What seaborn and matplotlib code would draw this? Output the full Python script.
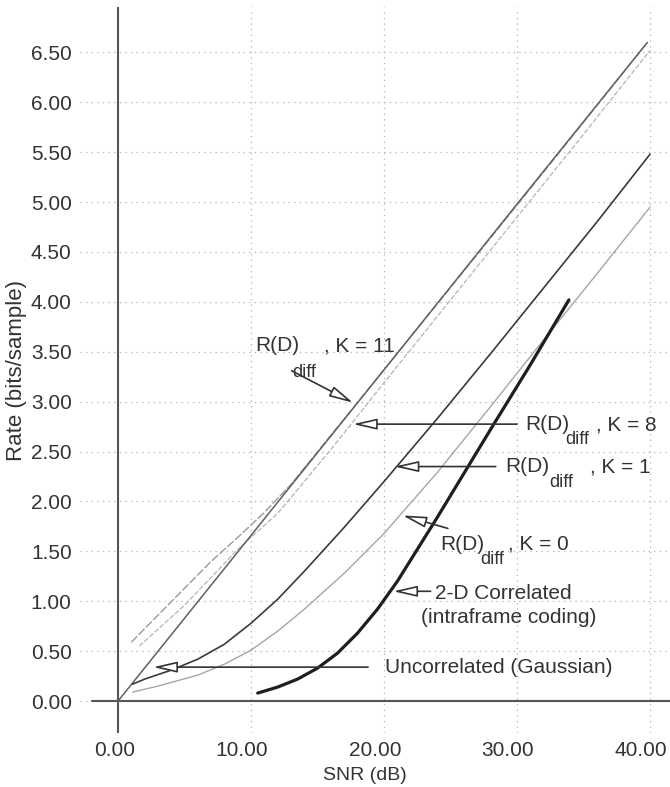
import matplotlib
matplotlib.use("Agg")
import matplotlib.pyplot as plt
from matplotlib.transforms import ScaledTranslation
import pandas as pd
import seaborn as sns

# Rate-distortion curves: SNR (dB) vs rate (bits/sample)
uncorr_snr = [0.0, 10.0, 20.0, 30.0, 39.8]
uncorr_rate = [0.00, 1.66, 3.32, 4.98, 6.60]

k11_snr = [1.0, 3, 5, 7, 9, 11, 13, 15, 18, 22, 26, 30, 35, 39.8]
k11_rate = [0.59, 0.86, 1.13, 1.40, 1.64, 1.89, 2.17, 2.50, 2.99, 3.65, 4.31, 4.97, 5.80, 6.60]

k8_snr = [1.6, 3, 5, 7, 9, 12, 16, 20, 25, 30, 35, 40]
k8_rate = [0.55, 0.72, 0.96, 1.24, 1.52, 1.88, 2.52, 3.19, 4.02, 4.85, 5.68, 6.52]

k1_snr = [1.1, 2, 4, 6, 8, 10, 12, 14, 17, 20, 24, 28, 32, 36, 40]
k1_rate = [0.17, 0.22, 0.31, 0.42, 0.57, 0.78, 1.02, 1.30, 1.74, 2.20, 2.83, 3.48, 4.14, 4.80, 5.48]

k0_snr = [1.1, 3, 6, 8, 10, 12, 14, 17, 20, 24, 28, 32, 36, 40]
k0_rate = [0.09, 0.15, 0.26, 0.37, 0.51, 0.70, 0.92, 1.28, 1.68, 2.29, 2.95, 3.62, 4.28, 4.95]

corr2d_snr = [10.5, 12, 13.5, 15, 16.5, 18, 19.5, 21, 22.5, 24, 26, 28, 31, 33.9]
corr2d_rate = [0.08, 0.14, 0.22, 0.33, 0.48, 0.68, 0.92, 1.20, 1.52, 1.84, 2.28, 2.72, 3.37, 4.02]

x_ticks = [0, 10, 20, 30, 40]
y_ticks = [0.0, 0.5, 1.0, 1.5, 2.0, 2.5, 3.0, 3.5, 4.0, 4.5, 5.0, 5.5, 6.0, 6.5]

sns.set_theme(style="white")
plt.rcParams["font.family"] = ["Liberation Sans", "DejaVu Sans"]

fig = plt.figure(figsize=(6.7, 7.87), dpi=100)
ax = fig.add_axes([80 / 670, 1 - 733 / 787, 1 - 80 / 670, 726 / 787])

ax.set_xlim(-2.86, 41.5)
ax.set_ylim(-0.32, 6.955)

# dotted grid
for xv in x_ticks[1:]:
    ax.axvline(xv, color="#b0b0b0", lw=0.9, ls=(0, (1, 3.5)), zorder=0)
for yv in y_ticks:
    ax.axhline(yv, color="#b0b0b0", lw=0.9, ls=(0, (1, 3.5)), zorder=0)

# axes crossing at the origin
ax.axvline(0, color="#555555", lw=1.5, zorder=1)
ax.plot([-1.95, 41.5], [0, 0], color="#555555", lw=1.5, zorder=1)

series = [
    (k8_snr, k8_rate, "#b4b4b4", 0.9, (0, (4, 1.5))),
    (k11_snr, k11_rate, "#9a9a9a", 1.0, (0, (6, 1.5))),
    (k0_snr, k0_rate, "#a6a6a6", 1.0, "-"),
    (uncorr_snr, uncorr_rate, "#606060", 1.1, "-"),
    (k1_snr, k1_rate, "#3a3a3a", 1.2, "-"),
    (corr2d_snr, corr2d_rate, "#1e1e1e", 2.3, "-"),
]
for sx, sy, col, lw, ls in series:
    df = pd.DataFrame({"snr": sx, "rate": sy})
    sns.lineplot(data=df, x="snr", y="rate", ax=ax, color=col, lw=lw,
                 linestyle=ls, estimator=None, sort=False, zorder=3)

for s in ax.spines.values():
    s.set_visible(False)

ax.set_xticks(x_ticks)
ax.set_yticks(y_ticks)
ax.set_xticklabels([f"{v:.2f}" for v in x_ticks])
ax.set_yticklabels([f"{v:.2f}" for v in y_ticks])
ax.tick_params(axis="both", length=0, labelsize=15, colors="#333333")
ax.tick_params(axis="y", pad=6)
ax.tick_params(axis="x", pad=6)

# x tick labels sit right-aligned a little past their grid line
shift = ScaledTranslation(17 / 100, 0, fig.dpi_scale_trans)
for tick in ax.xaxis.get_major_ticks():
    tick.label1.set_horizontalalignment("right")
    tick.label1.set_transform(tick.label1.get_transform() + shift)

ax.set_xlabel("SNR (dB)", fontsize=14, color="#333333")
ax.set_ylabel("Rate (bits/sample)", fontsize=16, color="#333333")
ax.xaxis.set_label_coords(0.483, -0.047)
ax.yaxis.set_label_coords(-0.09, 0.499)

arrow_kw = dict(arrowstyle="-|>,head_length=1.45,head_width=0.33",
                mutation_scale=10, fc="white", ec="#333333", lw=1.2,
                shrinkA=0, shrinkB=0)


def arrow(tip, tail):
    ax.annotate("", xy=tip, xytext=tail, arrowprops=arrow_kw, zorder=5)


def rd_label(x_r, y_r, x_sub, y_sub, x_k, k):
    kw = dict(color="#333333", va="center", ha="left", zorder=6)
    ax.text(x_r, y_r, "R(D)", fontsize=15, **kw)
    ax.text(x_sub, y_sub, "diff", fontsize=13, **kw)
    ax.text(x_k, y_r, f", K = {k}", fontsize=15, **kw)


# K = 11
rd_label(10.3, 3.56, 13.1, 3.29, 15.5, 11)
arrow((17.67, 2.99), (13.05, 3.31))
# K = 8
rd_label(30.6, 2.77, 33.6, 2.62, 35.9, 8)
arrow((17.67, 2.775), (30.0, 2.775))
# K = 1
rd_label(29.1, 2.35, 32.4, 2.19, 35.5, 1)
arrow((20.8, 2.35), (28.4, 2.35))
# K = 0
rd_label(24.2, 1.57, 27.2, 1.42, 29.3, 0)
arrow((21.4, 1.86), (24.8, 1.73))

txt = dict(color="#333333", va="center", ha="left", fontsize=15, zorder=6)
ax.text(23.8, 1.08, "2-D Correlated", **txt)
ax.text(22.8, 0.84, "(intraframe coding)", **txt)
arrow((20.7, 1.10), (23.5, 1.10))

ax.text(20.1, 0.34, "Uncorrelated (Gaussian)", **txt)
arrow((2.65, 0.34), (18.8, 0.34))

fig.savefig("out.png", dpi=100, facecolor="white")
